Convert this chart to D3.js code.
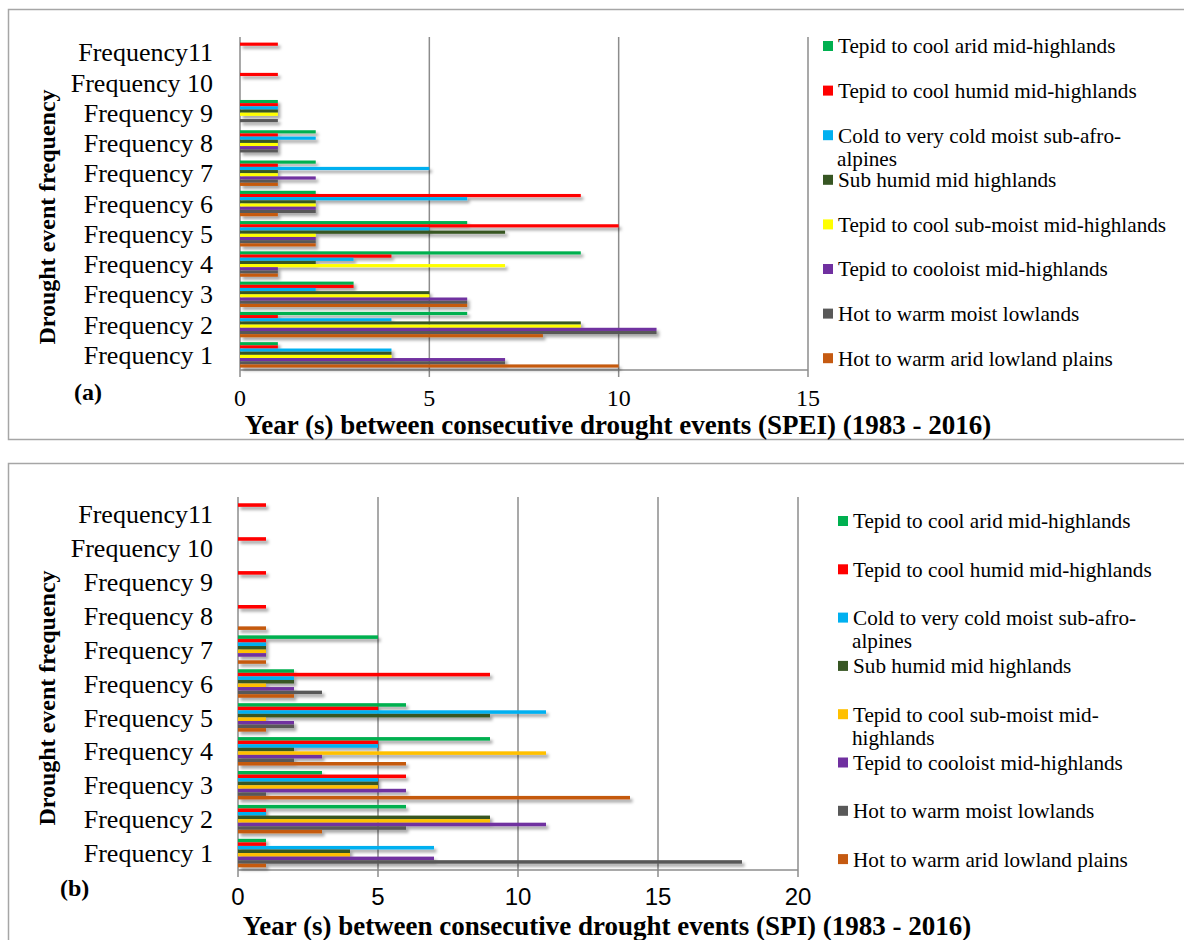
<!DOCTYPE html>
<html>
<head>
<meta charset="utf-8">
<script src="https://cdn.jsdelivr.net/npm/d3@7"></script>
<style>
  html, body { margin: 0; padding: 0; background: #fff; }
  svg { display: block; font-family: "Liberation Serif", "Times New Roman", serif; }
</style>
</head>
<body>
<svg id="chart" width="1184" height="940"></svg>
<script>
// Categories, bottom to top
const categories = ["Frequency 1", "Frequency 2", "Frequency 3", "Frequency 4", "Frequency 5",
  "Frequency 6", "Frequency 7", "Frequency 8", "Frequency 9", "Frequency 10", "Frequency11"];

// Agro-ecological zones (series), top bar of each group first
const zoneNames = ["Tepid to cool arid mid-highlands", "Tepid to cool humid mid-highlands",
  "Cold to very cold moist sub-afro-alpines", "Sub humid mid highlands",
  "Tepid to cool sub-moist mid-highlands", "Tepid to cooloist mid-highlands",
  "Hot to warm moist lowlands", "Hot to warm arid lowland plains"];

// (a) SPEI: years between consecutive drought events, per frequency 1..11
const speiAridMid    = [1, 6, 3, 9, 6, 2, 2, 2, 1, 0, 0];
const speiHumidMid   = [1, 1, 3, 4, 10, 9, 1, 1, 1, 1, 1];
const speiColdAlpine = [4, 4, 2, 3, 5, 6, 5, 2, 1, 0, 0];
const speiSubHumid   = [4, 9, 5, 2, 7, 2, 1, 1, 1, 0, 0];
const speiSubMoist   = [4, 9, 5, 7, 2, 2, 1, 1, 1, 0, 0];
const speiCooloist   = [7, 11, 6, 1, 2, 2, 2, 1, 0, 0, 0];
const speiMoistLow   = [7, 11, 6, 1, 2, 2, 1, 1, 1, 0, 0];
const speiAridLow    = [10, 8, 6, 1, 2, 1, 1, 0, 0, 0, 0];

// (b) SPI
const spiAridMid    = [1, 6, 3, 9, 6, 2, 5, 0, 0, 0, 0];
const spiHumidMid   = [1, 1, 6, 5, 5, 9, 1, 1, 1, 1, 1];
const spiColdAlpine = [7, 1, 5, 5, 11, 2, 1, 0, 0, 0, 0];
const spiSubHumid   = [4, 9, 5, 2, 9, 2, 1, 0, 0, 0, 0];
const spiSubMoist   = [4, 9, 5, 11, 1, 1, 1, 0, 0, 0, 0];
const spiCooloist   = [7, 11, 6, 3, 2, 2, 1, 0, 0, 0, 0];
const spiMoistLow   = [18, 6, 1, 2, 2, 3, 0, 0, 0, 0, 0];
const spiAridLow    = [1, 3, 14, 6, 1, 2, 1, 1, 0, 0, 0];

const speiTicks = [0, 5, 10, 15];
const spiTicks = [0, 5, 10, 15, 20];

const svg = d3.select("#chart");

// drop shadow under the bars
const defs = svg.append("defs");
const f = defs.append("filter").attr("id", "barShadow")
  .attr("x", "-5%").attr("y", "-50%").attr("width", "120%").attr("height", "300%");
f.append("feDropShadow").attr("dx", 2.5).attr("dy", 3).attr("stdDeviation", 1.8)
  .attr("flood-color", "#000").attr("flood-opacity", 0.35);

function drawPanel(cfg) {
  const g = svg.append("g");

  // panel frame
  g.append("rect")
    .attr("x", cfg.frame[0]).attr("y", cfg.frame[1])
    .attr("width", cfg.frame[2]).attr("height", cfg.frame[3])
    .attr("fill", "none").attr("stroke", "#a6a6a6").attr("stroke-width", 1.5);

  const x = d3.scaleLinear().domain([0, d3.max(cfg.ticks)]).range([cfg.left, cfg.right]);
  const y = d3.scaleBand().domain(categories.slice().reverse())
    .range([cfg.top, cfg.bottom]).paddingInner(0.16).paddingOuter(0.08);
  const ys = d3.scaleBand().domain(d3.range(cfg.series.length)).range([0, y.bandwidth()]);

  // vertical gridlines (extending below the axis as tick marks)
  g.append("g").selectAll("line").data(cfg.ticks).join("line")
    .attr("x1", d => x(d)).attr("x2", d => x(d))
    .attr("y1", cfg.top).attr("y2", cfg.bottom + 7)
    .attr("stroke", "#8c8c8c").attr("stroke-width", 1.5);

  // horizontal value axis line
  g.append("line")
    .attr("x1", cfg.left).attr("x2", cfg.right)
    .attr("y1", cfg.bottom).attr("y2", cfg.bottom)
    .attr("stroke", "#8c8c8c").attr("stroke-width", 1.5);

  // bars
  const bars = g.append("g").attr("filter", "url(#barShadow)");
  cfg.series.forEach((vals, si) => {
    bars.append("g").attr("fill", cfg.colors[si])
      .selectAll("rect").data(vals.map((v, i) => ({ cat: categories[i], v })).filter(d => d.v > 0))
      .join("rect")
      .attr("x", x(0))
      .attr("y", d => y(d.cat) + ys(si))
      .attr("width", d => x(d.v) - x(0))
      .attr("height", ys.bandwidth());
  });

  // category labels
  g.append("g").selectAll("text").data(categories).join("text")
    .attr("x", cfg.labelRight)
    .attr("y", d => y(d) + y.bandwidth() / 2)
    .attr("dy", "0.35em")
    .attr("text-anchor", "end")
    .attr("font-size", cfg.catSize)
    .attr("fill", "#000")
    .text(d => d);

  // tick labels
  g.append("g").selectAll("text").data(cfg.ticks).join("text")
    .attr("x", d => x(d)).attr("y", cfg.tickBaseline)
    .attr("text-anchor", "middle")
    .attr("font-size", cfg.tickSize).attr("font-family", cfg.tickFont)
    .attr("fill", "#000")
    .text(d => d);

  // axis titles
  g.append("text")
    .attr("x", cfg.xTitle[0]).attr("y", cfg.xTitle[1])
    .attr("text-anchor", "middle").attr("font-weight", "bold").attr("font-size", 27)
    .text(cfg.xTitleText);
  g.append("text")
    .attr("transform", `translate(${cfg.yTitle[0]},${cfg.yTitle[1]}) rotate(-90)`)
    .attr("text-anchor", "middle").attr("dy", "0.35em")
    .attr("font-weight", "bold").attr("font-size", 24)
    .text("Drought event frequency");

  // panel letter
  g.append("text")
    .attr("x", cfg.letter[0]).attr("y", cfg.letter[1])
    .attr("font-weight", "bold").attr("font-size", 24)
    .text(cfg.letterText);

  // legend
  const leg = g.append("g");
  cfg.legendLines.forEach((lines, i) => {
    const cy = cfg.legendTop + i * cfg.legendStep;
    leg.append("rect")
      .attr("x", cfg.legendX).attr("y", cy - 5)
      .attr("width", 10).attr("height", 10)
      .attr("fill", cfg.colors[i]);
    lines.forEach((t, li) => {
      leg.append("text")
        .attr("x", cfg.legendX + (li === 0 ? 15 : 14))
        .attr("y", cy + li * 23).attr("dy", "0.35em")
        .attr("font-size", 21.2)
        .text(t);
    });
  });
}

const colorsA = ["#00b050", "#ff0000", "#00b0f0", "#375623", "#ffff00", "#7030a0", "#595959", "#c55a11"];
const colorsB = ["#00b050", "#ff0000", "#00b0f0", "#375623", "#ffc000", "#7030a0", "#595959", "#c55a11"];

drawPanel({
  frame: [8.5, 9.5, 1190, 430],
  left: 240, right: 808, top: 37, bottom: 370,
  ticks: speiTicks,
  series: [speiAridMid, speiHumidMid, speiColdAlpine, speiSubHumid, speiSubMoist, speiCooloist, speiMoistLow, speiAridLow],
  colors: colorsA,
  catSize: 26, labelRight: 213,
  tickSize: 24, tickFont: "Liberation Serif", tickBaseline: 406,
  xTitle: [618, 434], xTitleText: "Year (s) between consecutive drought events (SPEI) (1983 - 2016)",
  yTitle: [47, 217],
  letter: [74, 400], letterText: "(a)",
  legendX: 823, legendTop: 46, legendStep: 44.6,
  legendLines: [[zoneNames[0]], [zoneNames[1]], ["Cold to very cold moist sub-afro-", "alpines"], [zoneNames[3]],
    [zoneNames[4]], [zoneNames[5]], [zoneNames[6]], [zoneNames[7]]]
});

drawPanel({
  frame: [8.5, 463.5, 1190, 500],
  left: 238, right: 798, top: 497, bottom: 870,
  ticks: spiTicks,
  series: [spiAridMid, spiHumidMid, spiColdAlpine, spiSubHumid, spiSubMoist, spiCooloist, spiMoistLow, spiAridLow],
  colors: colorsB,
  catSize: 26, labelRight: 213,
  tickSize: 24, tickFont: "Liberation Sans", tickBaseline: 905,
  xTitle: [607, 935], xTitleText: "Year (s) between consecutive drought events (SPI) (1983 - 2016)",
  yTitle: [47, 698],
  letter: [60, 896], letterText: "(b)",
  legendX: 838, legendTop: 521, legendStep: 48.3,
  legendLines: [[zoneNames[0]], [zoneNames[1]], ["Cold to very cold moist sub-afro-", "alpines"], [zoneNames[3]],
    ["Tepid to cool sub-moist mid-", "highlands"], [zoneNames[5]], [zoneNames[6]], [zoneNames[7]]]
});
</script>
</body>
</html>
